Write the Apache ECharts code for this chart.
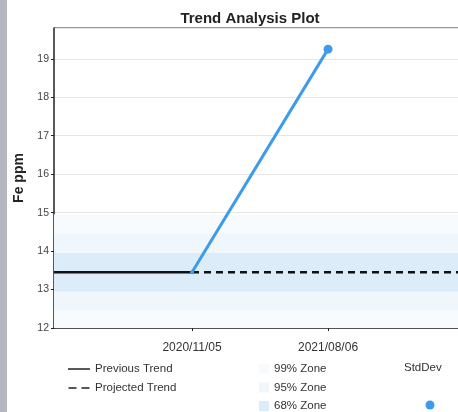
<!DOCTYPE html>
<html>
<head>
<meta charset="utf-8">
<script src="https://cdn.jsdelivr.net/npm/echarts@6/dist/echarts.min.js"></script>
<style>
  html, body { margin: 0; padding: 0; background: #fff; }
  #chart { width: 458px; height: 412px; }
</style>
</head>
<body>
<div id="chart"></div>
<script>
// 数据
var DAY = 24 * 3600 * 1000;
var dateLabels = ['2020/11/05', '2021/08/06'];
var trendValue = 13.45;
var measured = [13.45, 19.25];
var zoneNames = ['99% Zone', '95% Zone', '68% Zone'];
var zoneLow = [11.95, 12.45, 12.95];
var zoneHigh = [14.95, 14.45, 13.95];
var zoneColors = ['#f8fbfe', '#f0f7fc', '#dcedf9'];

var t1 = Date.UTC(2020, 10, 5);
var t2 = Date.UTC(2021, 7, 6);
var xMin = t1 - 278 * DAY;
var xMax = t2 + 286 * DAY;

function fmt(v) {
    var d = new Date(v);
    var m = d.getUTCMonth() + 1, dd = d.getUTCDate();
    return d.getUTCFullYear() + '/' + (m < 10 ? '0' + m : m) + '/' + (dd < 10 ? '0' + dd : dd);
}

var myChart = echarts.init(document.getElementById('chart'));

var series = [];
zoneNames.forEach(function (name, i) {
    series.push({
        name: name,
        type: 'line',
        data: [],
        itemStyle: { color: zoneColors[i] },
        markArea: {
            silent: true,
            itemStyle: { color: zoneColors[i] },
            data: [[{ yAxis: zoneLow[i] }, { yAxis: zoneHigh[i] }]]
        },
        z: 1
    });
});
series.push({
    name: 'Previous Trend',
    type: 'line',
    data: [[xMin, trendValue], [t1, trendValue]],
    symbol: 'none',
    lineStyle: { color: '#111', width: 2.5 },
    itemStyle: { color: '#111' },
    z: 3
});
series.push({
    name: 'Projected Trend',
    type: 'line',
    data: [[t1, trendValue], [xMax, trendValue]],
    symbol: 'none',
    lineStyle: { color: '#111', width: 2.5, type: [7, 5] },
    itemStyle: { color: '#111' },
    z: 3
});
series.push({
    name: 'StdDev',
    type: 'line',
    data: [
        { value: [t1, measured[0]], symbolSize: 4 },
        { value: [t2, measured[1]], symbolSize: 9 }
    ],
    symbol: 'circle',
    lineStyle: { color: '#3d9be9', width: 3 },
    itemStyle: { color: '#3d9be9' },
    z: 4
});

var legendText = { fontFamily: 'Liberation Sans', fontSize: 11.5, color: '#333' };

var option = {
    animation: false,
    backgroundColor: '#fff',
    title: {
        text: 'Trend Analysis Plot',
        left: 245,
        textAlign: 'center',
        top: 6,
        textStyle: { fontFamily: 'Liberation Sans', fontSize: 15, fontWeight: 'bold', color: '#222' }
    },
    grid: { left: 54, top: 28, width: 416, bottom: 84, outerBoundsMode: 'none' },
    legend: [{
        data: [
            { name: 'Previous Trend', icon: 'path://M0,0H22V1.5H0Z' },
            { name: 'Projected Trend', icon: 'path://M0,0H8V1.5H0Z M13,0H21V1.5H13Z' }
        ],
        orient: 'vertical',
        left: 63,
        top: 358,
        height: 80,
        itemWidth: 22,
        itemHeight: 1.5,
        itemGap: 7,
        itemStyle: { color: '#222' },
        textStyle: legendText
    }, {
        data: zoneNames,
        orient: 'vertical',
        left: 254,
        top: 358,
        height: 80,
        icon: 'rect',
        itemWidth: 10,
        itemHeight: 10,
        itemGap: 6.5,
        textStyle: legendText
    }],
    graphic: [{
        type: 'rect',
        left: 0, top: 0,
        shape: { width: 7, height: 412 },
        style: { fill: '#b4b7c0' }
    }, {
        type: 'text',
        left: 404, top: 362,
        style: { text: 'StdDev', font: '11.5px "Liberation Sans"', fill: '#333' }
    }, {
        type: 'circle',
        shape: { cx: 430, cy: 405, r: 4.5 },
        style: { fill: '#3d9be9' }
    }, {
        // 顶部边框
        type: 'line',
        shape: { x1: 54, y1: 28, x2: 458, y2: 28 },
        style: { stroke: '#333', lineWidth: 1.2 }
    }],
    xAxis: {
        type: 'value',
        min: xMin,
        max: xMax,
        axisLine: { lineStyle: { color: '#222', width: 1.5 } },
        axisTick: { customValues: [t1, t2], length: 3, lineStyle: { color: '#222' } },
        axisLabel: {
            customValues: [t1, t2],
            formatter: function (v) { return fmt(v); },
            fontFamily: 'Liberation Sans',
            fontSize: 12,
            color: '#333',
            margin: 14
        },
        splitLine: { show: false }
    },
    yAxis: {
        type: 'value',
        name: 'Fe ppm',
        nameLocation: 'middle',
        nameGap: 28,
        nameTextStyle: { fontFamily: 'Liberation Sans', fontSize: 14, fontWeight: 'bold', color: '#222' },
        min: 12,
        max: 19.8,
        interval: 1,
        axisLine: { show: true, lineStyle: { color: '#222', width: 1.5 } },
        axisTick: { show: true, length: 3, lineStyle: { color: '#222' } },
        axisLabel: { showMaxLabel: false, fontFamily: 'Liberation Sans', fontSize: 10.5, color: '#444', margin: 5 },
        splitLine: { lineStyle: { color: '#e6e6e6' } }
    },
    series: series
};

myChart.setOption(option);
</script>
</body>
</html>
